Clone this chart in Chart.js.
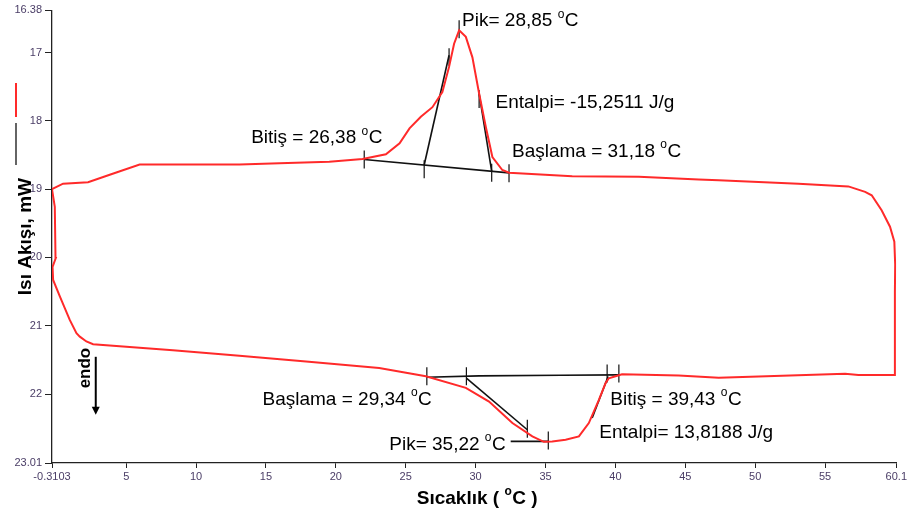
<!DOCTYPE html>
<html><head><meta charset="utf-8">
<script src="https://cdn.jsdelivr.net/npm/chart.js@4.4.1/dist/chart.umd.min.js"></script>
<style>html,body{margin:0;padding:0;background:#fff;}</style>
</head><body>
<canvas id="c" width="909" height="517"></canvas>
<script>
// ---- data ----
const xTickValues = [-0.3103, 5, 10, 15, 20, 25, 30, 35, 40, 45, 50, 55, 60.1];
const xTickLabels = ['-0.3103','5','10','15','20','25','30','35','40','45','50','55','60.1'];
const yTickValues = [16.38, 17, 18, 19, 20, 21, 22, 23.01];
const yTickLabels = ['16.38','17','18','19','20','21','22','23.01'];

// DSC loop (temperature °C, heat flow mW), in drawing order
const curveT = [-0.31,0.48,2.27,3.82,5.96,13.11,15.96,19.53,21.91,23.58,24.56,25.27,26.08,26.91,27.62,28.10,28.46,28.82,29.30,29.77,30.25,30.73,31.20,31.91,32.39,36.91,41.68,45.96,47.39,53.10,56.67,57.87,58.34,59.05,59.65,59.96,60.02,60.0,60.0,57.39,56.44,50.25,47.39,44.53,40.48,40.01,39.53,39.30,38.82,38.10,37.39,36.44,35.48,34.88,34.06,32.63,30.96,29.30,26.44,23.10,17.87,13.10,8.34,2.63,2.15,1.68,1.44,0.96,0.25,-0.23,-0.27,-0.04,-0.06,-0.11,-0.31];
const curveQ = [19.00,18.92,18.90,18.79,18.64,18.64,18.62,18.60,18.56,18.49,18.33,18.11,17.94,17.80,17.58,17.21,16.87,16.675,16.77,17.07,17.60,18.09,18.53,18.72,18.76,18.81,18.82,18.86,18.87,18.92,18.96,19.04,19.09,19.31,19.55,19.77,20.10,20.50,21.72,21.72,21.705,21.745,21.76,21.73,21.71,21.74,21.77,21.84,22.085,22.425,22.62,22.67,22.695,22.70,22.62,22.425,22.11,21.91,21.74,21.62,21.525,21.44,21.36,21.27,21.23,21.16,21.11,20.915,20.57,20.33,20.14,20.01,19.99,19.26,19.00];

// black construction lines (baselines / tangents)
const segT = [[22.03,32.39],[26.32,28.10],[31.15,30.25],[26.51,30.25,36.08,40.25],[29.34,33.70],[38.34,39.48],[32.51,35.20]];
const segQ = [[18.566,18.762],[18.647,17.04],[18.739,17.60],[21.755,21.735,21.725,21.72],[21.767,22.523],[22.352,21.744],[22.694,22.694]];

// small vertical marker ticks
const markT = [22.03,26.32,31.15,32.39,28.82,28.10,30.25,26.51,29.34,39.41,40.25,33.70,35.20];
const markQ = [18.566,18.71,18.76,18.766,16.66,17.07,17.68,21.74,21.74,21.70,21.70,22.51,22.68];

// annotation texts
const annText = ['Pik= 28,85 °C','Entalpi= -15,2511 J/g','Bitiş = 26,38 °C','Başlama = 31,18 °C','Başlama = 29,34 °C','Bitiş = 39,43 °C','Entalpi= 13,8188 J/g','Pik= 35,22 °C'];
const annT = [29.03,31.43,13.94,32.60,14.75,39.64,38.85,23.82];
const annQ = [16.617,17.816,18.327,18.525,22.158,22.158,22.64,22.816];

const xTitle = 'Sıcaklık ( °C )';
const yTitle = 'Isı Akışı, mW';
const endoText = 'endo';

// ---- build ----
const FONT = '"Liberation Sans", Arial, sans-serif';
const datasets = [];
datasets.push({
  label: 'curve', data: curveT.map((t,i)=>({x:t,y:curveQ[i]})),
  showLine: true, borderColor: '#ff2a2a', borderWidth: 2, pointRadius: 0, tension: 0
});
segT.forEach((s,k)=>{
  datasets.push({label:'seg'+k, data: s.map((t,i)=>({x:t,y:segQ[k][i]})),
    showLine:true, borderColor:'#111', borderWidth:1.6, pointRadius:0});
});
datasets.push({label:'marks', data: markT.map((t,i)=>({x:t,y:markQ[i]})),
  showLine:false, pointStyle:'line', rotation:90, pointRadius:9, borderColor:'#111', borderWidth:1.2, pointHoverRadius:9});

function drawDeg(ctx, text, x, y, size, weight){
  const main = `${weight} ${size}px ${FONT}`;
  const small = `${weight} ${Math.round(size*0.62)}px ${FONT}`;
  const parts = text.split('°');
  ctx.font = main; ctx.textAlign='left'; ctx.textBaseline='alphabetic';
  ctx.fillText(parts[0], x, y);
  if (parts.length < 2) return ctx.measureText(parts[0]).width;
  let w = ctx.measureText(parts[0]).width;
  ctx.font = small; ctx.fillText('o', x+w, y - size*0.45);
  w += ctx.measureText('o').width + 0.5;
  ctx.font = main; ctx.fillText(parts[1], x+w, y);
  w += ctx.measureText(parts[1]).width;
  return w;
}
function measureDeg(ctx, text, size, weight){
  const parts = text.split('°');
  ctx.font = `${weight} ${size}px ${FONT}`;
  let w = ctx.measureText(parts[0]).width;
  if (parts.length>1){ w += ctx.measureText(parts[1]).width; ctx.font = `${weight} ${Math.round(size*0.62)}px ${FONT}`; w += ctx.measureText('o').width+0.5; }
  return w;
}

const extras = {
  id:'extras',
  afterDraw(chart){
    const ctx = chart.ctx, xs = chart.scales.x, ys = chart.scales.y, ca = chart.chartArea;
    ctx.save();
    ctx.fillStyle = '#000';
    annText.forEach((t,i)=>drawDeg(ctx, t, xs.getPixelForValue(annT[i]), ys.getPixelForValue(annQ[i]), 19, 'normal'));
    // x title
    const wx = measureDeg(ctx, xTitle, 19, 'bold');
    drawDeg(ctx, xTitle, (ca.left+ca.right)/2 + 3 - wx/2, 504, 19, 'bold');
    // y title
    ctx.save();
    ctx.translate(31, (ca.top+ca.bottom)/2);
    ctx.rotate(-Math.PI/2);
    ctx.font = `bold 19px ${FONT}`; ctx.textAlign='center'; ctx.textBaseline='alphabetic';
    ctx.fillText(yTitle, 0, 0);
    ctx.restore();
    // endo
    const ex = xs.getPixelForValue(1.96), ey = ys.getPixelForValue(21.62);
    ctx.save(); ctx.translate(ex+6, ey); ctx.rotate(-Math.PI/2);
    ctx.font = `bold 17px ${FONT}`; ctx.textAlign='center'; ctx.fillText(endoText, 0, 0);
    ctx.restore();
    const ax = xs.getPixelForValue(2.82), ay1 = ys.getPixelForValue(21.455), ay2 = ys.getPixelForValue(22.304);
    ctx.strokeStyle='#000'; ctx.lineWidth=2;
    ctx.beginPath(); ctx.moveTo(ax, ay1); ctx.lineTo(ax, ay2-6); ctx.stroke();
    ctx.beginPath(); ctx.moveTo(ax-4, ay2-8); ctx.lineTo(ax+4, ay2-8); ctx.lineTo(ax, ay2); ctx.closePath(); ctx.fill();
    // legend (vertical line swatches)
    ctx.strokeStyle='#ff2a2a'; ctx.lineWidth=2;
    ctx.beginPath(); ctx.moveTo(16,83); ctx.lineTo(16,117); ctx.stroke();
    ctx.strokeStyle='#111'; ctx.lineWidth=1.3;
    ctx.beginPath(); ctx.moveTo(16,123); ctx.lineTo(16,165); ctx.stroke();
    ctx.restore();
  }
};

new Chart(document.getElementById('c'), {
  type:'scatter',
  data:{datasets},
  options:{
    responsive:false, animation:false, devicePixelRatio:1,
    layout:{padding:{top:10, right:11, left:0, bottom:0}},
    plugins:{legend:{display:false}, tooltip:{enabled:false}},
    elements:{line:{tension:0}},
    scales:{
      x:{type:'linear', min:-0.3103, max:60.1,
        afterFit(s){ s.height = 54; },
        afterBuildTicks(s){ s.ticks = xTickValues.map(v=>({value:v})); },
        grid:{drawOnChartArea:false, tickLength:5, color:'#222'},
        border:{color:'#222', width:1.3},
        ticks:{autoSkip:false, maxRotation:0, padding:2, color:'#4a3d66', font:{family:FONT, size:11},
          callback:(v)=>{ const i = xTickValues.indexOf(v); return i>=0 ? xTickLabels[i] : ''; }}
      },
      y:{type:'linear', reverse:true, min:16.38, max:23.01,
        afterFit(s){ s.width = 52; },
        afterBuildTicks(s){ s.ticks = yTickValues.map(v=>({value:v})); },
        grid:{drawOnChartArea:false, tickLength:7, color:'#222'},
        border:{color:'#222', width:1.3},
        ticks:{autoSkip:false, padding:3, color:'#4a3d66', font:{family:FONT, size:11},
          callback:(v)=>{ const i = yTickValues.indexOf(v); return i>=0 ? yTickLabels[i] : ''; }}
      }
    }
  },
  plugins:[extras]
});
</script>
</body></html>
